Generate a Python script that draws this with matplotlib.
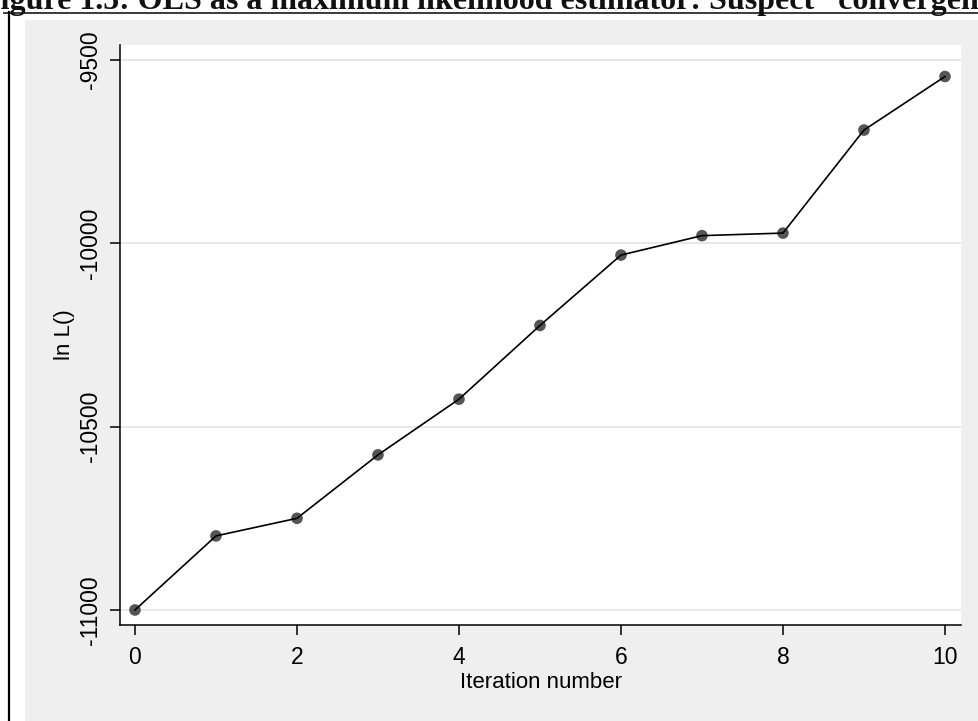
import matplotlib.pyplot as plt
import numpy as np
from matplotlib.lines import Line2D
from matplotlib.patches import Rectangle

# Data
ITERATIONS = [0, 1, 2, 3, 4, 5, 6, 7, 8, 9, 10]
LOG_LIKELIHOOD = [-11000, -10798, -10750, -10577, -10425, -10224,
                  -10032, -9979, -9972, -9691, -9545]
Y_TICKS = [-11000, -10500, -10000, -9500]
X_TICKS = [0, 2, 4, 6, 8, 10]

TITLE = "Figure 1.5: OLS as a maximum likelihood estimator: Suspect \u201cconvergence\u201d"
W, H = 979, 721

plt.rcParams["font.family"] = ["Liberation Sans", "DejaVu Sans"]
plt.rcParams["axes.unicode_minus"] = False

fig = plt.figure(figsize=(W / 100, H / 100), dpi=100)
fig.patch.set_facecolor("white")

# page furniture: caption, rule, frame and the grey graph region
fig.text(-19 / W, 1 - 9 / H, TITLE, fontsize=23, fontweight="bold",
         family="Liberation Serif", va="baseline", ha="left", color="#111111")
fig.add_artist(Line2D([4 / W, 1], [1 - 12.5 / H] * 2, color="#3a3a3a", lw=1.4,
                      transform=fig.transFigure))
fig.add_artist(Line2D([9 / W] * 2, [0, 1 - 12 / H], color="black", lw=1.6,
                      transform=fig.transFigure))
fig.add_artist(Rectangle((25 / W, 0), 1 - 25 / W, 1 - 20 / H,
                         transform=fig.transFigure, facecolor="#efefef",
                         edgecolor="none", zorder=-1))

ax = fig.add_axes([120 / W, (H - 625) / H, 841 / W, 580 / H])
ax.set_facecolor("white")

ax.scatter(ITERATIONS, LOG_LIKELIHOOD, s=70, color="#555555", zorder=2,
           edgecolors="none")
ax.plot(ITERATIONS, LOG_LIKELIHOOD, color="black", lw=1.2, zorder=3)

ax.set_xlim(-0.185, 10.198)
ax.set_ylim(-11041, -9459)
ax.set_xticks(X_TICKS)
ax.set_yticks(Y_TICKS)
ax.grid(axis="y", color="#e6e6e6", lw=1.3)
ax.grid(axis="x", visible=False)
ax.set_axisbelow(True)

for side in ("top", "right"):
    ax.spines[side].set_visible(False)
for side in ("left", "bottom"):
    ax.spines[side].set_linewidth(1.1)

ax.tick_params(axis="both", length=7, width=1.1, labelsize=16.5, direction="out")
ax.tick_params(axis="x", pad=8)
ax.tick_params(axis="y", pad=6, labelrotation=90)
for lbl in ax.get_yticklabels():
    lbl.set_verticalalignment("center")

ax.set_xlabel("Iteration number", fontsize=16, labelpad=2)
ax.set_ylabel("ln L()", fontsize=16, labelpad=3)

fig.savefig("out.png", dpi=100)
